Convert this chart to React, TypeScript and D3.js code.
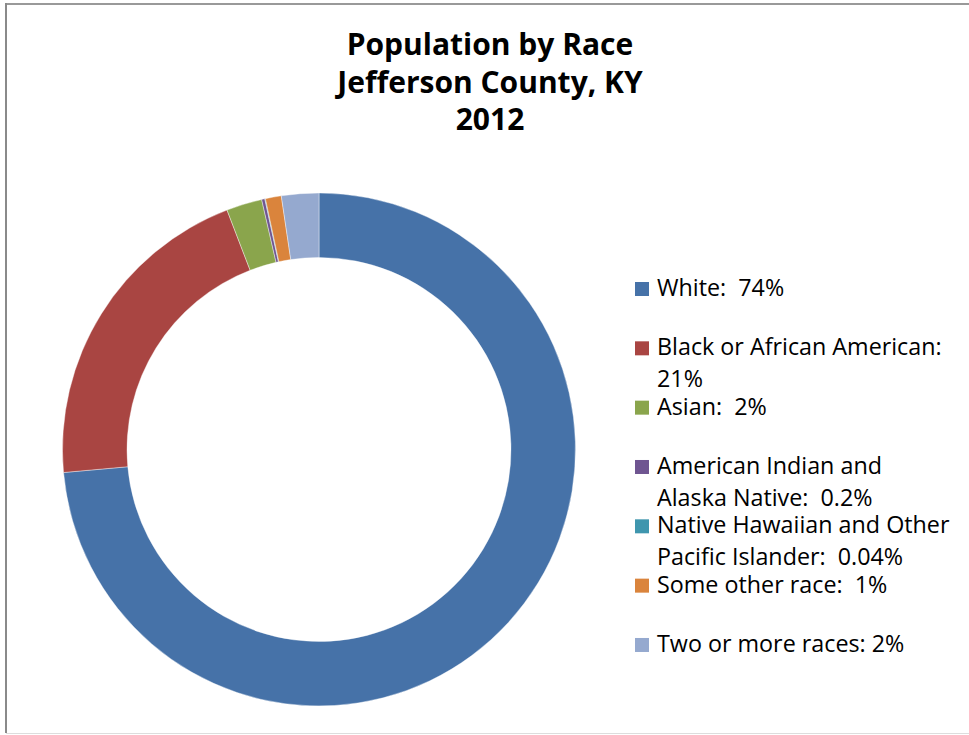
import React from "react";
import * as d3 from "d3";

const categories = [
  "White",
  "Black or African American",
  "Asian",
  "American Indian and Alaska Native",
  "Native Hawaiian and Other Pacific Islander",
  "Some other race",
  "Two or more races",
];
const values = [73.6, 20.6, 2.25, 0.2, 0.04, 1.0, 2.35];
const legendLines = [
  ["White:  74%"],
  ["Black or African American:", "21%"],
  ["Asian:  2%"],
  ["American Indian and", "Alaska Native:  0.2%"],
  ["Native Hawaiian and Other", "Pacific Islander:  0.04%"],
  ["Some other race:  1%"],
  ["Two or more races: 2%"],
];
const colors = ["#4672A8", "#A94542", "#8AA54C", "#6F5591", "#3F96AE", "#DA843C", "#95A9CF"];
const titleLines = ["Population by Race", "Jefferson County, KY", "2012"];

export default function App() {
  const W = 969, H = 735;
  const cx = 319, cy = 449.5;
  const pie = d3.pie<number>().sort(null).value((d) => d).startAngle(0).endAngle(2 * Math.PI);
  const arcs = pie(values);
  const arc = d3.arc<d3.PieArcDatum<number>>().innerRadius(192).outerRadius(256.5);
  const font = "'Open Sans', sans-serif";
  return (
    <svg width={W} height={H} style={{ position: "absolute", left: 0, top: 0, background: "#fff" }}>
      <rect x={0} y={0} width={W} height={H} fill="#fff" />
      <line x1={6} y1={4} x2={W} y2={4} stroke="#999" strokeWidth={2} />
      <line x1={6} y1={3} x2={6} y2={733} stroke="#8a8a8a" strokeWidth={2} />
      <line x1={6} y1={733.5} x2={W} y2={733.5} stroke="#ddd" strokeWidth={1} />
      <g fontFamily={font} fontWeight="bold" fontSize={30} textAnchor="middle" fill="#000">
        {titleLines.map((t, i) => (
          <text key={i} x={490} y={55 + i * 37.5}>{t}</text>
        ))}
      </g>
      <g transform={`translate(${cx},${cy})`}>
        {arcs.map((a, i) => (
          <path key={categories[i]} d={arc(a) || ""} fill={colors[i]} stroke="#fff" strokeWidth={0.4} />
        ))}
      </g>
      <g fontFamily={font} fontSize={23.3} fill="#000" style={{ whiteSpace: "pre" }}>
        {legendLines.map((lines, i) => {
          const by = 296 + i * 59.33;
          return (
            <g key={i}>
              <rect x={635} y={by - 14} width={14} height={14} fill={colors[i]} />
              {lines.map((l, j) => (
                <text key={j} x={657} y={by + j * 32} xmlSpace="preserve">{l}</text>
              ))}
            </g>
          );
        })}
      </g>
    </svg>
  );
}
